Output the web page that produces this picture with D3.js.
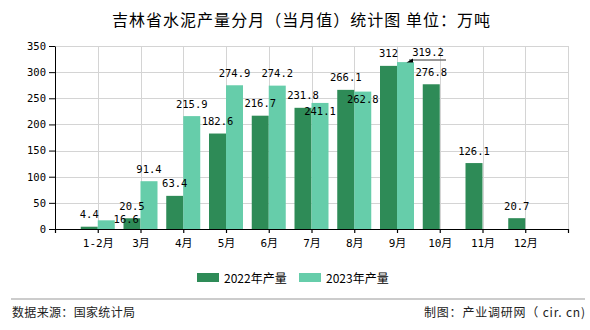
<!DOCTYPE html>
<html>
<head>
<meta charset="utf-8">
<script src="https://cdn.jsdelivr.net/npm/d3@7"></script>
<style>
  html, body { margin: 0; padding: 0; background: #fff; }
  svg { display: block; }
</style>
</head>
<body>
<svg id="chart" width="590" height="330"></svg>
<script>
// ---- data ----
const categories = ["1-2月","3月","4月","5月","6月","7月","8月","9月","10月","11月","12月"];
const series2022 = [4.4, 20.5, 63.4, 182.6, 216.7, 231.8, 266.1, 312, 276.8, 126.1, 20.7];
const series2023 = [16.6, 91.4, 215.9, 274.9, 274.2, 241.1, 262.8, 319.2, null, null, null];
const seriesNames = ["2022年产量", "2023年产量"];
const yTicks = [0, 50, 100, 150, 200, 250, 300, 350];
const colors = ["#2e8b57", "#66cdaa"];

// label nudges for collision avoidance (series index | category)
const labelNudge = {
  "1|1-2月": [20, 10.8],
  "1|7月": [0, 20.5],
  "1|8月": [0, 19.8],
  "1|9月": [22.5, 2.8]
};

(function () {
const svg = d3.select("#chart");
const pL = 55, pR = 568, pT = 46, pB = 229;
const x = d3.scalePoint().domain(categories).range([pL, pR]).padding(1);
const y = d3.scaleLinear().domain([0, 350]).range([pB, pT]);
const barW = 17;

const monoFont = "'DejaVu Sans Mono', 'Liberation Mono', 'Noto Sans CJK SC', monospace";
const cjkFont = "'Noto Sans CJK SC', 'Liberation Sans', sans-serif";

// title
svg.append("text")
  .attr("x", 301).attr("y", 26)
  .attr("text-anchor", "middle")
  .attr("font-family", cjkFont)
  .attr("font-size", 16)
  .attr("textLength", 378)
  .attr("lengthAdjust", "spacing")
  .attr("fill", "#000")
  .text("吉林省水泥产量分月（当月值）统计图 单位：万吨");

// grid
const grid = svg.append("g").attr("stroke", "#d4d4d4").attr("stroke-width", 1);
grid.selectAll("line.h").data(yTicks.filter(d => d > 0)).enter().append("line")
  .attr("x1", pL).attr("x2", pR)
  .attr("y1", d => Math.round(y(d)) + 0.5).attr("y2", d => Math.round(y(d)) + 0.5);
grid.selectAll("line.v").data(categories.map(c => x(c)).concat([pR])).enter().append("line")
  .attr("x1", d => Math.round(d) + 0.5).attr("x2", d => Math.round(d) + 0.5)
  .attr("y1", pT).attr("y2", pB);

// bars
const allSeries = [series2022, series2023];
allSeries.forEach((vals, si) => {
  svg.append("g").selectAll("rect")
    .data(categories.map((c, i) => ({ c, v: vals[i] })).filter(d => d.v != null))
    .enter().append("rect")
    .attr("x", d => si === 0 ? x(d.c) - barW : x(d.c))
    .attr("y", d => y(d.v))
    .attr("width", barW)
    .attr("height", d => pB - y(d.v))
    .attr("fill", colors[si]);
});

// axes
const yAxis = svg.append("g")
  .attr("transform", `translate(${pL},0)`)
  .call(d3.axisLeft(y).tickValues(yTicks).tickSize(6).tickSizeOuter(0).tickPadding(3));
yAxis.selectAll("text").attr("font-family", monoFont).attr("font-size", 10.5).attr("fill", "#000");
yAxis.selectAll("line,path").attr("stroke", "#000");

const xAxis = svg.append("g")
  .attr("transform", `translate(0,${pB})`)
  .call(d3.axisBottom(x).tickSize(4).tickSizeOuter(4));
xAxis.selectAll("text").attr("font-family", monoFont).attr("font-size", 11)
  .attr("fill", "#000").attr("y", 18).attr("dy", 0);
xAxis.selectAll("line,path").attr("stroke", "#000").attr("stroke-width", 1.2);

// value labels
allSeries.forEach((vals, si) => {
  categories.forEach((c, i) => {
    const v = vals[i];
    if (v == null) return;
    const cx = si === 0 ? x(c) - barW / 2 : x(c) + barW / 2;
    const nudge = labelNudge[si + "|" + c] || [0, 0];
    svg.append("text")
      .attr("x", cx + nudge[0])
      .attr("y", y(v) - 8.5 + nudge[1])
      .attr("text-anchor", "middle")
      .attr("font-family", monoFont)
      .attr("font-size", 10.5)
      .attr("fill", "#000")
      .text(v);
    if (si === 1 && c === "9月") {
      const ty = y(v);
      const bx = x(c);
      svg.append("line")
        .attr("x1", bx + 12).attr("x2", bx + 49)
        .attr("y1", ty - 2).attr("y2", ty - 2)
        .attr("stroke", "#777").attr("stroke-width", 1.5);
      svg.append("path")
        .attr("d", `M${bx + 9.5},${ty + 0.5} L${bx + 16},${ty - 3.5} L${bx + 16},${ty + 0.5} Z`)
        .attr("fill", "#000");
    }
  });
});

// legend
const legend = svg.append("g");
[197, 299].forEach((lx, i) => {
  legend.append("rect").attr("x", lx).attr("y", 273).attr("width", 22).attr("height", 9).attr("fill", colors[i]);
  legend.append("text").attr("x", lx + 27).attr("y", 282.5)
    .attr("font-family", cjkFont).attr("font-size", 12).attr("fill", "#000")
    .text(seriesNames[i]);
});

// footer
svg.append("line").attr("x1", 11).attr("x2", 585).attr("y1", 299).attr("y2", 299)
  .attr("stroke", "#999").attr("stroke-width", 1.2);
svg.append("text").attr("x", 12).attr("y", 316.5)
  .attr("font-family", cjkFont).attr("font-size", 12).attr("fill", "#222")
  .attr("textLength", 123).attr("lengthAdjust", "spacing")
  .text("数据来源：国家统计局");
svg.append("text").attr("x", 585).attr("y", 316.5).attr("text-anchor", "end")
  .attr("font-family", cjkFont).attr("font-size", 12).attr("fill", "#222")
  .attr("textLength", 161).attr("lengthAdjust", "spacing")
  .text("制图：产业调研网（ cir. cn)");
})();
</script>
</body>
</html>
